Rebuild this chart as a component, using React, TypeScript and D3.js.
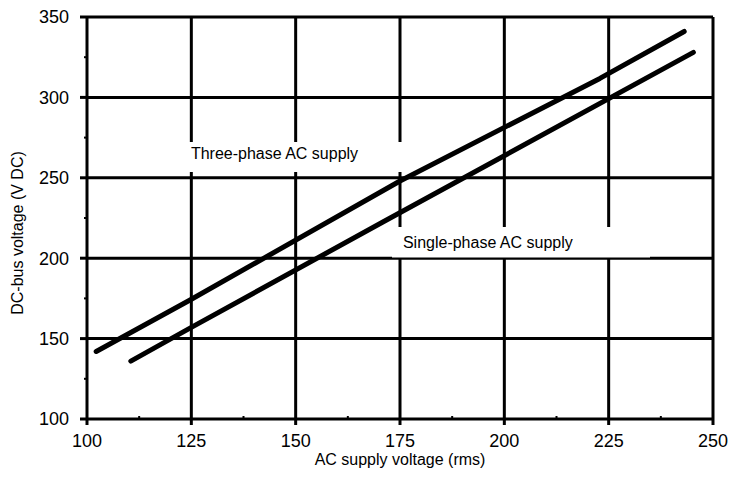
import React from "react";
import * as d3 from "d3";

const xTicks = [100, 125, 150, 175, 200, 225, 250];
const yTicks = [100, 150, 200, 250, 300, 350];
const xMinor = [112.5, 137.5, 162.5, 187.5, 212.5, 237.5];
const yMinor = [125, 175, 225, 275, 325];
const threePhase: [number, number][] = [[102.2, 142], [124.7, 174], [175, 248], [222.9, 311.8], [243.1, 341]];
const singlePhase: [number, number][] = [[110.5, 136], [125, 157], [170.9, 222.5], [245.3, 328]];
const labels = [
  { text: "Three-phase AC supply", x: 124.9, y: 261.4 },
  { text: "Single-phase AC supply", x: 175.7, y: 206.2 },
];

export default function App() {
  const W = 735, H = 477;
  const x = d3.scaleLinear().domain([100, 250]).range([87, 713]);
  const y = d3.scaleLinear().domain([100, 350]).range([419, 17]);
  const line = d3.line<[number, number]>().x(d => x(d[0])).y(d => y(d[1]));
  const font = "Arial, 'Liberation Sans', sans-serif";
  return (
    <svg width={W} height={H} style={{ position: "absolute", left: 0, top: 0 }} fontFamily={font}>
      <rect width={W} height={H} fill="#fff" />
      {yTicks.map(t => (
        <line key={"gy" + t} x1={x(100)} x2={x(250)} y1={y(t)} y2={y(t)} stroke="#000" strokeWidth={3} />
      ))}
      {xTicks.map(t => (
        <line key={"gx" + t} x1={x(t)} x2={x(t)} y1={y(100)} y2={y(350)} stroke="#000" strokeWidth={3} />
      ))}
      <rect x={182} y={142} width={228} height={30} fill="#fff" />
      <rect x={392} y={227} width={258} height={30.5} fill="#fff" />
      {yTicks.map(t => (
        <line key={"ty" + t} x1={x(100) - 7} x2={x(100)} y1={y(t)} y2={y(t)} stroke="#000" strokeWidth={3} />
      ))}
      {yMinor.map(t => (
        <line key={"my" + t} x1={x(100) - 3} x2={x(100)} y1={y(t)} y2={y(t)} stroke="#000" strokeWidth={2} />
      ))}
      {xTicks.map(t => (
        <line key={"tx" + t} x1={x(t)} x2={x(t)} y1={y(100)} y2={y(100) + 6} stroke="#000" strokeWidth={3} />
      ))}
      {xMinor.map(t => (
        <line key={"mx" + t} x1={x(t)} x2={x(t)} y1={y(100) - 3} y2={y(100)} stroke="#000" strokeWidth={2} />
      ))}
      <path d={line(threePhase) || ""} stroke="#000" strokeWidth={5} fill="none" strokeLinecap="round" strokeLinejoin="round" />
      <path d={line(singlePhase) || ""} stroke="#000" strokeWidth={5} fill="none" strokeLinecap="round" strokeLinejoin="round" />
      {yTicks.map(t => (
        <text key={"ly" + t} x={69} y={y(t) + 6.4} textAnchor="end" fontSize={18}>{t}</text>
      ))}
      {xTicks.map(t => (
        <text key={"lx" + t} x={x(t)} y={447} textAnchor="middle" fontSize={18}>{t}</text>
      ))}
      {labels.map(l => (
        <text key={l.text} x={x(l.x)} y={y(l.y)} fontSize={16}>{l.text}</text>
      ))}
      <text x={400} y={465} textAnchor="middle" fontSize={16}>AC supply voltage (rms)</text>
      <text transform="translate(23,233) rotate(-90)" textAnchor="middle" fontSize={16}>DC-bus voltage (V DC)</text>
    </svg>
  );
}
